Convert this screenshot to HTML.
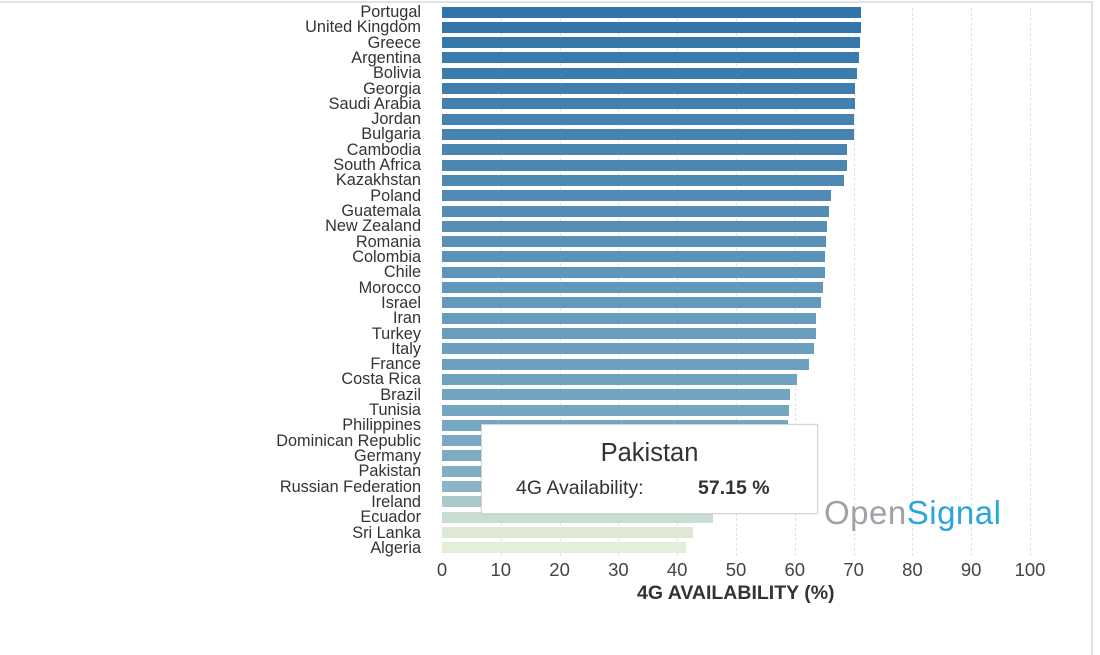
<!DOCTYPE html>
<html><head><meta charset="utf-8"><style>
body{margin:0;width:1100px;height:655px;background:#fff;overflow:hidden;font-family:"Liberation Sans",sans-serif;position:relative}
.lab{position:absolute;right:679px;font-size:16.3px;color:#333;white-space:nowrap;line-height:15px}
.bar{position:absolute;left:442px;height:11px}
.grid{position:absolute;top:8px;height:548px;border-left:1px dashed #e2e2e2}
.tick{position:absolute;top:559px;font-size:18.5px;color:#444;width:40px;text-align:center}
</style></head><body>
<div style="position:absolute;left:0;top:1px;width:1092px;height:2px;background:#dfe2e6"></div>
<div style="position:absolute;left:1091px;top:1px;width:2px;height:654px;background:#dfe2e6"></div>
<div id="c"></div>
<div style="position:absolute;left:637px;top:582px;font-size:19.5px;font-weight:bold;color:#333">4G AVAILABILITY (%)</div>
<div style="position:absolute;left:481px;top:424px;width:335px;height:88px;border:1px solid #d4d4d4;background:#fff;box-shadow:0 0 2px rgba(0,0,0,.1)">
<div style="position:absolute;top:14px;width:100%;text-align:center;font-size:25.5px;color:#333">Pakistan</div>
<div style="position:absolute;left:34px;top:52px;font-size:19.5px;color:#333">4G Availability:</div>
<div style="position:absolute;left:216px;top:52px;font-size:19.5px;font-weight:bold;color:#333">57.15 %</div>
</div>
<div style="position:absolute;left:824px;top:494px;font-size:33px;letter-spacing:0.5px"><span style="color:#9ea3a8">Open</span><span style="color:#2aa6dd">Signal</span></div>
<script>
var d=[["Portugal",861],["United Kingdom",861],["Greece",860],["Argentina",859],["Bolivia",857],["Georgia",855],["Saudi Arabia",855],["Jordan",854],["Bulgaria",854],["Cambodia",847],["South Africa",847],["Kazakhstan",844],["Poland",831],["Guatemala",829],["New Zealand",827],["Romania",826],["Colombia",825],["Chile",825],["Morocco",823],["Israel",821],["Iran",816],["Turkey",816],["Italy",814],["France",809],["Costa Rica",797],["Brazil",790],["Tunisia",789],["Philippines",788],["Dominican Republic",787],["Germany",785],["Pakistan",778],["Russian Federation",775],["Ireland",770],["Ecuador",713],["Sri Lanka",693],["Algeria",686]];
var h="";
for(var i=1;i<=10;i++){var x=442+i*58.8;h+='<div class="grid" style="left:'+x+'px"></div>';}
function col(i){
 var a=[50,116,169],b=[122,170,195];
 if(i<=28){var t=i/28;return 'rgb('+a.map(function(v,k){return Math.round(v+(b[k]-v)*t)}).join(',')+')';}
 var m={29:'#7cacc4',30:'#80aec4',31:'#8ab5c6',32:'#a9c9cc',33:'#c8ddd3',34:'#dde9d5',35:'#e3eedb'};return m[i];
}
d.forEach(function(r,i){var y=12+i*15.31;
 h+='<div class="lab" style="top:'+(y-7)+'px">'+r[0]+'</div>';
 h+='<div class="bar" style="top:'+(y-5.5)+'px;width:'+(r[1]-442)+'px;background:'+col(i)+'"></div>';});
for(var i=0;i<=10;i++){h+='<div class="tick" style="left:'+(442+i*58.8-20)+'px">'+(i*10)+'</div>';}
document.getElementById('c').innerHTML=h;
</script>
</body></html>
